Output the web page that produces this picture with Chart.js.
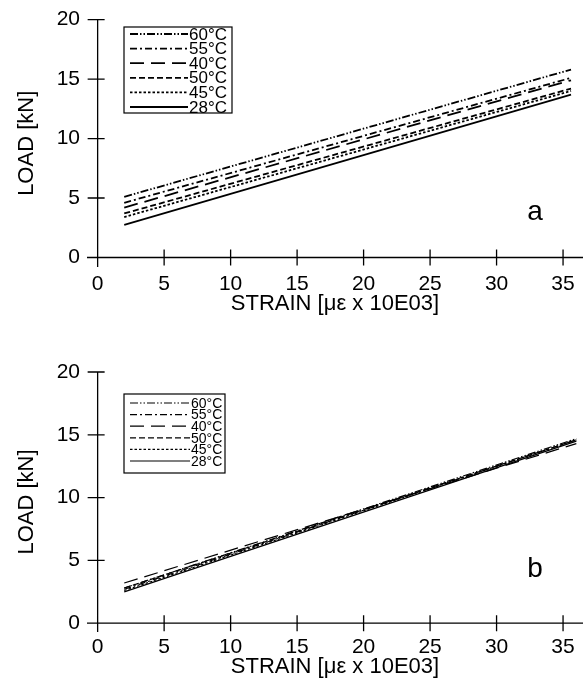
<!DOCTYPE html>
<html>
<head>
<meta charset="utf-8">
<script src="https://cdn.jsdelivr.net/npm/chart.js@4.4.1/dist/chart.umd.min.js"></script>
<style>
  html, body { margin: 0; padding: 0; background: #fff; }
  .wrap { position: absolute; left: 0; width: 586px; }
</style>
</head>
<body>
<div class="wrap" style="top:0;height:342px"><canvas id="chartA" width="586" height="342"></canvas></div>
<div class="wrap" style="top:342px;height:343px"><canvas id="chartB" width="586" height="343"></canvas></div>
<script>
// data
const temps = ['60°C', '55°C', '40°C', '50°C', '45°C', '28°C']
const xTicks = [0, 5, 10, 15, 20, 25, 30, 35]
const yTicks = [0, 5, 10, 15, 20]

// panel a
const strainA = [2, 35.6]
const loadA60 = [5.1, 15.8]
const loadA55 = [4.6, 15.1]
const loadA40 = [4.2, 14.9]
const loadA50 = [3.7, 14.2]
const loadA45 = [3.4, 14.0]
const loadA28 = [2.75, 13.7]

// panel b
const strainB = [2, 36]
const loadB60 = [2.8, 14.7]
const loadB55 = [2.7, 14.6]
const loadB40 = [3.2, 14.3]
const loadB50 = [2.8, 14.6]
const loadB45 = [2.6, 14.6]
const loadB28 = [2.5, 14.5]

const dashes = [[8, 2, 1.5, 2, 1.5, 2], [7, 3, 2, 3], [14, 7], [6, 3], [2.5, 2], []]
const font = "'Liberation Sans', Arial, sans-serif"

// axis lines with ticks that cross the axis, like the printed figure
const crossAxes = {
    id: 'crossAxes',
    afterDraw(chart) {
        const ctx = chart.ctx
        const x = chart.scales.x, y = chart.scales.y
        const area = chart.chartArea
        const x0 = x.getPixelForValue(0), y0 = y.getPixelForValue(0)
        ctx.save()
        ctx.strokeStyle = '#000'
        ctx.lineWidth = 1.3
        ctx.beginPath()
        ctx.moveTo(area.left, y0); ctx.lineTo(area.right, y0)
        ctx.moveTo(x0, area.top); ctx.lineTo(x0, area.bottom)
        xTicks.forEach(v => {
            const px = x.getPixelForValue(v)
            ctx.moveTo(px, y0 - 8); ctx.lineTo(px, y0 + 8)
        })
        yTicks.forEach(v => {
            const py = y.getPixelForValue(v)
            ctx.moveTo(x0 - 10, py); ctx.lineTo(x0 + 7, py)
        })
        ctx.stroke()
        ctx.restore()
    }
}

// legend box inside the plot area
const boxLegend = {
    id: 'boxLegend',
    afterDraw(chart, args, opts) {
        const ctx = chart.ctx
        ctx.save()
        ctx.strokeStyle = '#000'
        ctx.lineWidth = 1.2
        ctx.setLineDash([])
        ctx.strokeRect(opts.x, opts.y, opts.w, opts.h)
        ctx.font = opts.size + 'px ' + font
        ctx.fillStyle = '#000'
        ctx.textBaseline = 'middle'
        chart.data.datasets.forEach((ds, i) => {
            const ry = opts.y + opts.first + i * opts.step
            ctx.beginPath()
            ctx.lineWidth = ds.borderWidth
            ctx.setLineDash(ds.borderDash)
            ctx.moveTo(opts.x + 6, ry)
            ctx.lineTo(opts.lineEnd, ry)
            ctx.stroke()
            ctx.setLineDash([])
            ctx.fillText(ds.label, opts.lineEnd + 1, ry + 1)
        })
        // panel letter
        ctx.font = '28px ' + font
        ctx.textAlign = 'center'
        ctx.fillText(opts.letter, opts.letterX, opts.letterY)
        ctx.restore()
    }
}

function makeChart(id, strain, series, lw, opt) {
    const datasets = series.map((arr, i) => ({
        label: temps[i],
        data: strain.map((s, k) => ({ x: s, y: arr[k] })),
        borderColor: '#000',
        borderWidth: lw,
        borderDash: dashes[i],
        pointRadius: 0,
        showLine: true,
        fill: false
    }))
    return new Chart(document.getElementById(id), {
        type: 'scatter',
        data: { datasets: datasets },
        options: {
            responsive: false,
            animation: false,
            layout: { padding: { top: opt.top, right: 3, left: 0, bottom: 0 } },
            plugins: {
                legend: { display: false },
                tooltip: { enabled: false },
                boxLegend: opt.legend
            },
            scales: {
                x: {
                    type: 'linear',
                    min: -0.8, max: 36.5,
                    grid: { display: false, drawTicks: false },
                    border: { display: false },
                    afterBuildTicks: s => { s.ticks = xTicks.map(v => ({ value: v })) },
                    afterFit: s => { s.height = opt.xHeight },
                    ticks: { color: '#000', padding: opt.xPad, font: { family: font, size: 21 }, maxRotation: 0 },
                    title: {
                        display: true, text: 'STRAIN [με x 10E03]', color: '#000',
                        font: { family: font, size: 22 }, padding: { top: 0, bottom: opt.titlePad }
                    }
                },
                y: {
                    type: 'linear',
                    min: opt.ymin, max: 20,
                    grid: { display: false, drawTicks: false },
                    border: { display: false },
                    afterBuildTicks: s => { s.ticks = yTicks.map(v => ({ value: v })) },
                    afterFit: s => { s.width = 87 },
                    ticks: { color: '#000', padding: 7, font: { family: font, size: 21 } },
                    title: {
                        display: true, text: 'LOAD [kN]', color: '#000',
                        font: { family: font, size: 22 }, padding: { top: 14, bottom: 0 }
                    }
                }
            }
        },
        plugins: [crossAxes, boxLegend]
    })
}

makeChart('chartA', strainA, [loadA60, loadA55, loadA40, loadA50, loadA45, loadA28], 1.8, {
    top: 15, ymin: -0.8, xHeight: 75, xPad: 5, titlePad: 25,
    legend: { x: 124, y: 27, w: 108, h: 86, first: 7, step: 14.6, lineEnd: 188, size: 17, letter: 'a', letterX: 535, letterY: 212 }
})

makeChart('chartB', strainB, [loadB60, loadB55, loadB40, loadB50, loadB45, loadB28], 1.2, {
    top: 30, ymin: -0.7, xHeight: 53, xPad: 3, titlePad: 5,
    legend: { x: 124, y: 52, w: 101, h: 79, first: 9, step: 11.6, lineEnd: 190, size: 14, letter: 'b', letterX: 535, letterY: 227 }
})
</script>
</body>
</html>
